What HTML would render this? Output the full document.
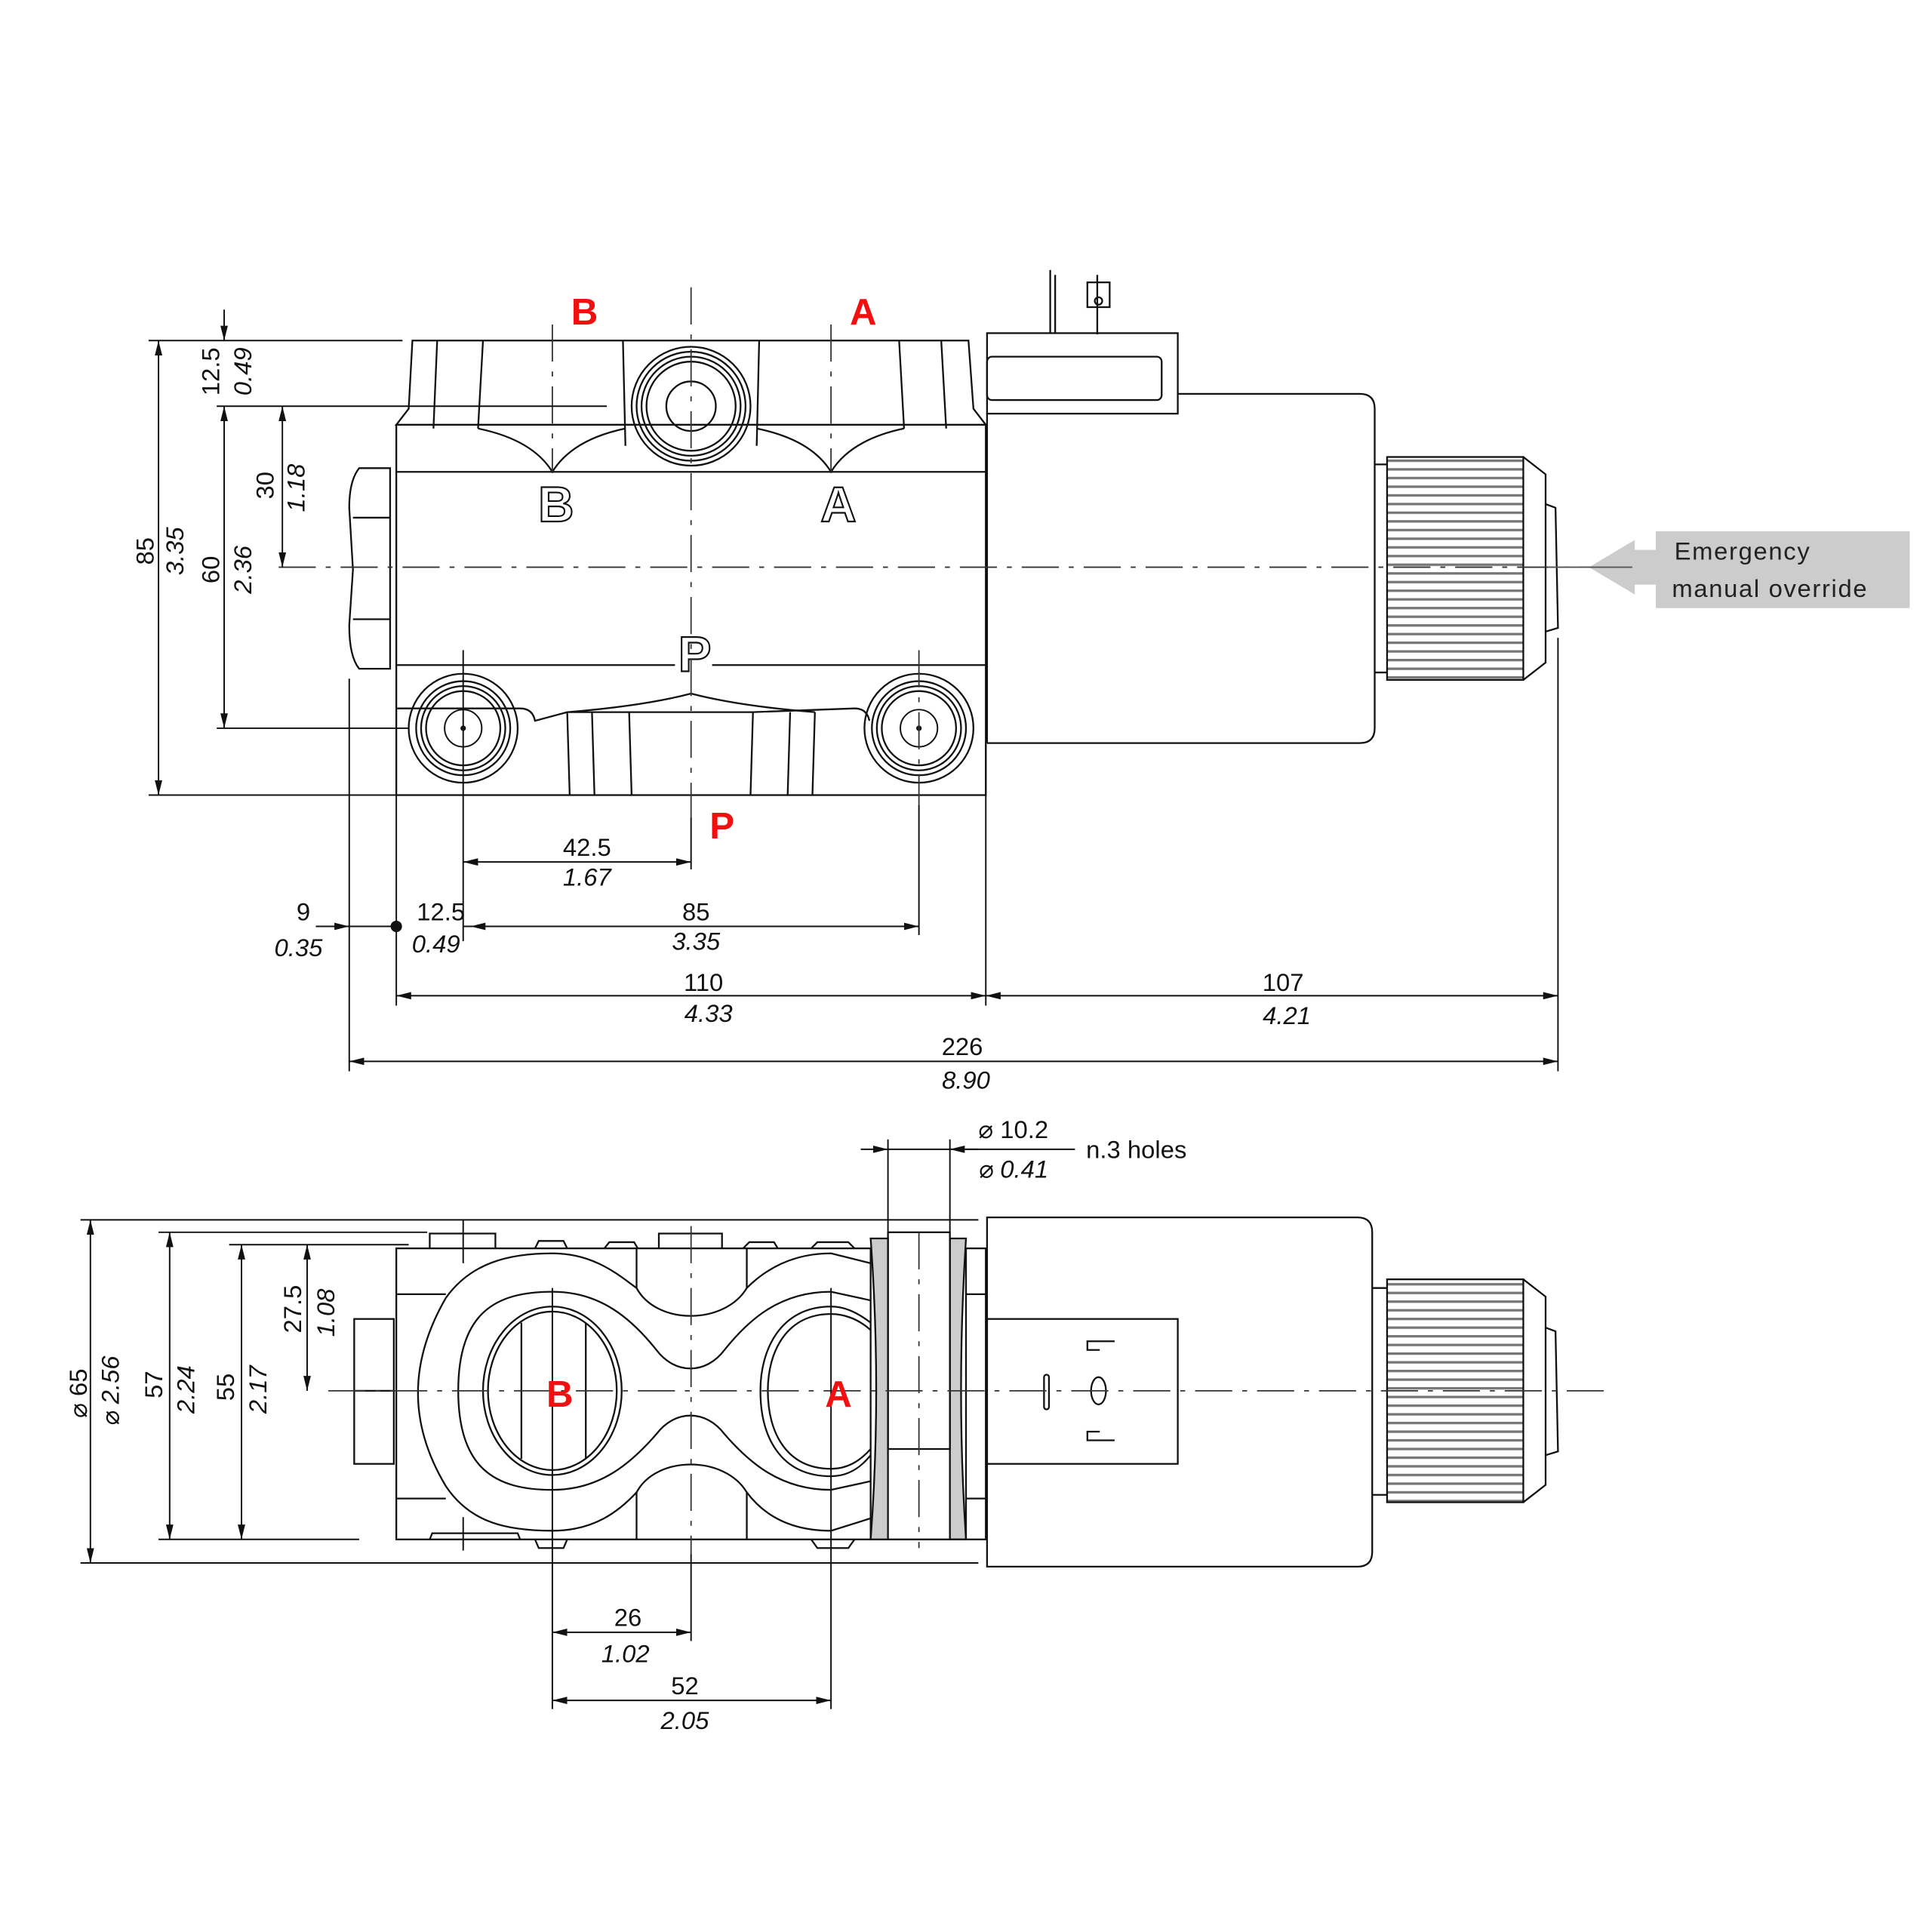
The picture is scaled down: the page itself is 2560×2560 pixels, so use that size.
<!DOCTYPE html>
<html><head><meta charset="utf-8"><style>html,body{margin:0;padding:0;background:#fff}svg{display:block}</style></head>
<body>
<svg width="2560" height="2560" viewBox="0 0 1560 1560" xmlns="http://www.w3.org/2000/svg" font-family="Liberation Sans, DejaVu Sans, sans-serif">
<defs>
<marker id="ae" viewBox="0 0 12 6" refX="12" refY="3" markerWidth="12" markerHeight="6" markerUnits="userSpaceOnUse" orient="auto"><path d="M0,0 L12,3 L0,6 z" fill="#111"/></marker>
<marker id="as" viewBox="0 0 12 6" refX="0" refY="3" markerWidth="12" markerHeight="6" markerUnits="userSpaceOnUse" orient="auto"><path d="M12,0 L0,3 L12,6 z" fill="#111"/></marker>
<pattern id="rib" patternUnits="userSpaceOnUse" x="0" y="0" width="10" height="7"><rect width="10" height="7" fill="#fff"/><rect y="0" width="10" height="2" fill="#777"/></pattern>
</defs>
<g fill="none" stroke="#111" stroke-width="1.4">
<!-- ===== TOP VIEW ===== -->
<!-- top flange -->
<path d="M333,275 L782,275 L786,330 L796,343 L320,343 L330,330 Z"/>
<line x1="353" y1="275" x2="350" y2="346"/><line x1="390" y1="275" x2="386" y2="346"/>
<line x1="726" y1="275" x2="730" y2="346"/><line x1="760" y1="275" x2="764" y2="346"/>
<line x1="503" y1="275" x2="505" y2="360"/><line x1="613" y1="275" x2="611" y2="360"/>
<rect x="320" y="343" width="476" height="299"/>
<line x1="320" y1="381" x2="796" y2="381"/>
<path d="M386,346 Q430,355 446,381 Q462,355 505,346"/>
<path d="M611,346 Q655,355 671,381 Q687,355 730,346"/>
<line x1="320" y1="537" x2="545" y2="537"/><line x1="575" y1="537" x2="796" y2="537"/>
<circle cx="558" cy="328" r="20"/><circle cx="558" cy="328" r="36"/><circle cx="558" cy="328" r="40"/><circle cx="558" cy="328" r="44"/><circle cx="558" cy="328" r="48"/>
<!-- bottom flange -->
<path d="M320,572 L420,572 Q430,572 432,582 L458,575 L608,575 L690,572 Q700,572 702,582 M458,575 L460,642 M608,575 L606,642"/>
<path d="M458,575 Q520,570 558,560 Q596,570 658,575"/>
<line x1="478" y1="575" x2="480" y2="642"/><line x1="508" y1="575" x2="510" y2="642"/>
<line x1="638" y1="575" x2="636" y2="642"/><line x1="658" y1="575" x2="656" y2="642"/>
<circle cx="374" cy="588" r="15" stroke-width="1.2"/><circle cx="374" cy="588" r="30"/><circle cx="374" cy="588" r="34"/><circle cx="374" cy="588" r="38"/><circle cx="374" cy="588" r="44"/>
<circle cx="742" cy="588" r="15" stroke-width="1.2"/><circle cx="742" cy="588" r="30"/><circle cx="742" cy="588" r="34"/><circle cx="742" cy="588" r="38"/><circle cx="742" cy="588" r="44"/>
<circle cx="374" cy="588" r="1.5" fill="#111"/><circle cx="742" cy="588" r="1.5" fill="#111"/>
<!-- hex nut -->
<path d="M290,378 L315,378 L315,540 L290,540 Q282,530 282,505 L285,460 L282,410 Q282,388 290,378 Z"/>
<line x1="285" y1="418" x2="315" y2="418"/><line x1="285" y1="500" x2="315" y2="500"/>
<!-- letters outlines -->
<text x="449" y="421" font-size="40" fill="#fff" stroke="#111" stroke-width="1.3" text-anchor="middle" font-weight="bold">B</text>
<text x="677" y="421" font-size="40" fill="#fff" stroke="#111" stroke-width="1.3" text-anchor="middle" font-weight="bold">A</text>
<text x="561" y="542" font-size="40" fill="#fff" stroke="#111" stroke-width="1.3" text-anchor="middle" font-weight="bold">P</text>
<!-- solenoid top -->
<rect x="797" y="269" width="154" height="65"/>
<rect x="797" y="288" width="141" height="35" rx="4"/>
<path d="M951,318 L1098,318 Q1110,318 1110,330 L1110,588 Q1110,600 1098,600 L797,600"/>
<line x1="797" y1="334" x2="797" y2="600"/>
<line x1="848" y1="218" x2="848" y2="269"/><line x1="852" y1="222" x2="852" y2="269"/>
<rect x="878" y="228" width="18" height="20"/><line x1="886" y1="222" x2="886" y2="270"/><circle cx="887" cy="243" r="3"/>
<line x1="1110" y1="375" x2="1120" y2="375"/><line x1="1110" y1="543" x2="1120" y2="543"/>
<rect x="1120" y="369" width="110" height="180" fill="url(#rib)"/>
<path d="M1230,369 L1248,383 L1248,535 L1230,549"/>
<path d="M1248,407 L1256,410 L1258,507 L1248,510"/>
<!-- bottom view -->
<rect x="320" y="1008" width="383" height="235"/>
<path d="M347,1008 L347,996 L400,996 L400,1008 M532,1008 L532,996 L583,996 L583,1008 M432,1008 L435,1002 L455,1002 L458,1008 M488,1008 L492,1003 L512,1003 L515,1008 M600,1008 L605,1003 L625,1003 L628,1008 M655,1008 L660,1003 L685,1003 L690,1008"/>
<path d="M347,1243 L349,1238 L418,1238 L420,1243 M432,1243 L435,1250 L455,1250 L458,1243 M655,1243 L660,1250 L685,1250 L690,1243 M514,1243 L514,1205 M603,1243 L603,1205 M514,1008 L514,1040 M603,1008 L603,1040"/>
<line x1="320" y1="1045" x2="360" y2="1045"/><line x1="320" y1="1210" x2="360" y2="1210"/>
<line x1="780" y1="1045" x2="796" y2="1045"/><line x1="780" y1="1210" x2="796" y2="1210"/>
<path d="M360,1048 C380,1020 410,1012 446,1012 C480,1012 500,1030 514,1040 C530,1070 585,1070 603,1040 C618,1025 640,1012 671,1012 L703,1020"/>
<path d="M360,1048 C330,1100 330,1150 360,1200 C380,1230 410,1236 446,1236 C480,1236 500,1220 514,1205 C530,1175 585,1175 603,1205 C618,1225 640,1236 671,1236 L703,1226"/>
<path d="M370,1123 C370,1060 400,1043 446,1043 C485,1043 510,1065 530,1090 C545,1110 570,1110 585,1090 C605,1065 630,1043 671,1043 L703,1050"/>
<path d="M370,1123 C370,1186 400,1203 446,1203 C485,1203 510,1181 530,1158 C545,1138 570,1138 585,1158 C605,1181 630,1203 671,1203 L703,1196"/>
<ellipse cx="446" cy="1123" rx="56" ry="68"/><ellipse cx="446" cy="1123" rx="52" ry="64"/>
<line x1="421" y1="1068" x2="421" y2="1178"/><line x1="473" y1="1068" x2="473" y2="1178"/>
<path d="M703,1068 C690,1058 680,1055 671,1055 C630,1055 614,1090 614,1123 C614,1160 630,1192 671,1192 C685,1192 695,1185 703,1175"/>
<path d="M703,1074 C692,1064 680,1061 671,1061 C636,1061 620,1090 620,1123 C620,1158 636,1186 671,1186 C684,1186 694,1180 703,1170"/>
<rect x="286" y="1065" width="32" height="117"/><line x1="286" y1="1123" x2="318" y2="1123"/>
<path d="M703,1000 L717,1000 L717,1243 L703,1243 Q712,1123 703,1000 Z" fill="#ccc"/>
<path d="M767,1000 L780,1000 Q772,1123 780,1243 L767,1243 Z" fill="#ccc"/>
<rect x="717" y="995" width="50" height="175"/>
<line x1="717" y1="1243" x2="780" y2="1243"/>
<rect x="780" y="1008" width="16" height="235"/>
<path d="M797,983 L1096,983 Q1108,983 1108,995 L1108,1253 Q1108,1265 1096,1265 L797,1265 Z"/>
<rect x="797" y="1065" width="154" height="117"/>
<path d="M888,1090 L878,1090 L878,1083 L900,1083 M888,1156 L878,1156 L878,1163 L900,1163"/>
<rect x="843" y="1110" width="4" height="28" rx="2"/>
<ellipse cx="887" cy="1123" rx="6" ry="11"/>
<line x1="1108" y1="1040" x2="1120" y2="1040"/><line x1="1108" y1="1207" x2="1120" y2="1207"/>
<rect x="1120" y="1033" width="110" height="180" fill="url(#rib)"/>
<path d="M1230,1033 L1248,1047 L1248,1199 L1230,1213"/>
<path d="M1248,1072 L1256,1075 L1258,1172 L1248,1175"/>
</g>
<!-- center lines -->
<g stroke="#333" stroke-width="1.1" stroke-dasharray="30,8,4,8" fill="none">
<line x1="225" y1="458" x2="1285" y2="458"/>
<line x1="558" y1="232" x2="558" y2="660"/>
<line x1="446" y1="262" x2="446" y2="381"/>
<line x1="671" y1="262" x2="671" y2="381"/>
<line x1="742" y1="525" x2="742" y2="650"/>
<line x1="265" y1="1123" x2="1300" y2="1123"/>
<line x1="558" y1="990" x2="558" y2="1255"/>
<line x1="742" y1="995" x2="742" y2="1250"/>
</g>
<!-- dimension lines -->
<g stroke="#111" stroke-width="1.2" fill="none">
<line x1="120" y1="275" x2="325" y2="275"/><line x1="175" y1="328" x2="490" y2="328"/>
<line x1="175" y1="588" x2="330" y2="588"/><line x1="120" y1="642" x2="445" y2="642"/>
<line x1="128" y1="275" x2="128" y2="642" marker-start="url(#as)" marker-end="url(#ae)"/>
<line x1="181" y1="250" x2="181" y2="275" marker-end="url(#ae)"/>
<line x1="181" y1="328" x2="181" y2="588" marker-start="url(#as)" marker-end="url(#ae)"/>
<line x1="228" y1="328" x2="228" y2="458" marker-start="url(#as)" marker-end="url(#ae)"/>
<line x1="282" y1="548" x2="282" y2="865"/><line x1="320" y1="642" x2="320" y2="812"/>
<line x1="374" y1="525" x2="374" y2="760"/><line x1="742" y1="650" x2="742" y2="755"/>
<line x1="558" y1="660" x2="558" y2="702"/><line x1="796" y1="600" x2="796" y2="812"/>
<line x1="1258" y1="515" x2="1258" y2="865"/>
<line x1="374" y1="696" x2="558" y2="696" marker-start="url(#as)" marker-end="url(#ae)"/>
<line x1="374" y1="748" x2="742" y2="748" marker-end="url(#ae)"/>
<line x1="402" y1="748" x2="380" y2="748" marker-end="url(#ae)"/>
<line x1="255" y1="748" x2="282" y2="748" marker-end="url(#ae)"/>
<line x1="282" y1="748" x2="320" y2="748"/>
<circle cx="320" cy="748" r="4" fill="#111"/>
<line x1="320" y1="804" x2="796" y2="804" marker-start="url(#as)" marker-end="url(#ae)"/>
<line x1="796" y1="804" x2="1258" y2="804" marker-start="url(#as)" marker-end="url(#ae)"/>
<line x1="282" y1="857" x2="1258" y2="857" marker-start="url(#as)" marker-end="url(#ae)"/>
<!-- bottom view dims -->
<line x1="65" y1="985" x2="790" y2="985"/><line x1="128" y1="995" x2="345" y2="995"/>
<line x1="185" y1="1005" x2="330" y2="1005"/>
<line x1="65" y1="1262" x2="790" y2="1262"/><line x1="128" y1="1243" x2="290" y2="1243"/>
<line x1="73" y1="985" x2="73" y2="1262" marker-start="url(#as)" marker-end="url(#ae)"/>
<line x1="137" y1="995" x2="137" y2="1243" marker-start="url(#as)" marker-end="url(#ae)"/>
<line x1="195" y1="1005" x2="195" y2="1243" marker-start="url(#as)" marker-end="url(#ae)"/>
<line x1="248" y1="1005" x2="248" y2="1123" marker-start="url(#as)" marker-end="url(#ae)"/>
<line x1="374" y1="985" x2="374" y2="1020"/><line x1="374" y1="1225" x2="374" y2="1252"/>
<line x1="446" y1="1040" x2="446" y2="1380"/><line x1="671" y1="1040" x2="671" y2="1380"/>
<line x1="558" y1="1255" x2="558" y2="1325"/>
<line x1="446" y1="1318" x2="558" y2="1318" marker-start="url(#as)" marker-end="url(#ae)"/>
<line x1="446" y1="1373" x2="671" y2="1373" marker-start="url(#as)" marker-end="url(#ae)"/>
<line x1="717" y1="920" x2="717" y2="995"/><line x1="767" y1="920" x2="767" y2="995"/>
<line x1="695" y1="928" x2="717" y2="928" marker-end="url(#ae)"/>
<line x1="790" y1="928" x2="767" y2="928" marker-end="url(#ae)"/>
<line x1="717" y1="928" x2="868" y2="928"/>
</g>
<!-- emergency label -->
<path d="M1283,458 L1320,436 L1320,444 L1337,444 L1337,472 L1320,472 L1320,480 Z" fill="#ccc"/>
<rect x="1337" y="429" width="205" height="62" fill="#ccc"/>
<line x1="1250" y1="458" x2="1318" y2="458" stroke="#555" stroke-width="1.1"/>
<g font-size="20" fill="#222" letter-spacing="1">
<text x="1352" y="452">Emergency</text>
<text x="1350" y="482">manual override</text>
</g>
<!-- red labels -->
<g fill="#f01010" font-size="30" font-weight="bold" text-anchor="middle">
<text x="472" y="262">B</text><text x="697" y="262">A</text><text x="583" y="677">P</text>
<text x="452" y="1136">B</text><text x="677" y="1136">A</text>
</g>
<!-- dimension text -->
<g font-size="20" fill="#111" text-anchor="middle">
<text x="474" y="691">42.5</text><text x="474" y="715" font-style="italic">1.67</text>
<text x="562" y="743">85</text><text x="562" y="767" font-style="italic">3.35</text>
<text x="356" y="743">12.5</text><text x="352" y="769" font-style="italic">0.49</text>
<text x="245" y="743">9</text><text x="241" y="772" font-style="italic">0.35</text>
<text x="568" y="800">110</text><text x="572" y="825" font-style="italic">4.33</text>
<text x="1036" y="800">107</text><text x="1039" y="827" font-style="italic">4.21</text>
<text x="777" y="852">226</text><text x="780" y="879" font-style="italic">8.90</text>
<text x="507" y="1313">26</text><text x="505" y="1342" font-style="italic">1.02</text>
<text x="553" y="1368">52</text><text x="553" y="1396" font-style="italic">2.05</text>
</g>
<g font-size="20" fill="#111">
<text x="790" y="919">⌀ 10.2</text><text x="790" y="951" font-style="italic">⌀ 0.41</text>
<text x="877" y="935">n.3 holes</text>
</g>
<g font-size="20" fill="#111" text-anchor="middle">
<text transform="translate(124,445) rotate(-90)">85</text>
<text transform="translate(148,445) rotate(-90)" font-style="italic">3.35</text>
<text transform="translate(177,300) rotate(-90)">12.5</text>
<text transform="translate(203,300) rotate(-90)" font-style="italic">0.49</text>
<text transform="translate(177,460) rotate(-90)">60</text>
<text transform="translate(203,460) rotate(-90)" font-style="italic">2.36</text>
<text transform="translate(221,392) rotate(-90)">30</text>
<text transform="translate(246,394) rotate(-90)" font-style="italic">1.18</text>
<text transform="translate(70,1125) rotate(-90)">⌀ 65</text>
<text transform="translate(96,1123) rotate(-90)" font-style="italic">⌀ 2.56</text>
<text transform="translate(131,1118) rotate(-90)">57</text>
<text transform="translate(157,1122) rotate(-90)" font-style="italic">2.24</text>
<text transform="translate(189,1120) rotate(-90)">55</text>
<text transform="translate(215,1122) rotate(-90)" font-style="italic">2.17</text>
<text transform="translate(243,1057) rotate(-90)">27.5</text>
<text transform="translate(270,1060) rotate(-90)" font-style="italic">1.08</text>
</g>
</svg>
</body></html>
